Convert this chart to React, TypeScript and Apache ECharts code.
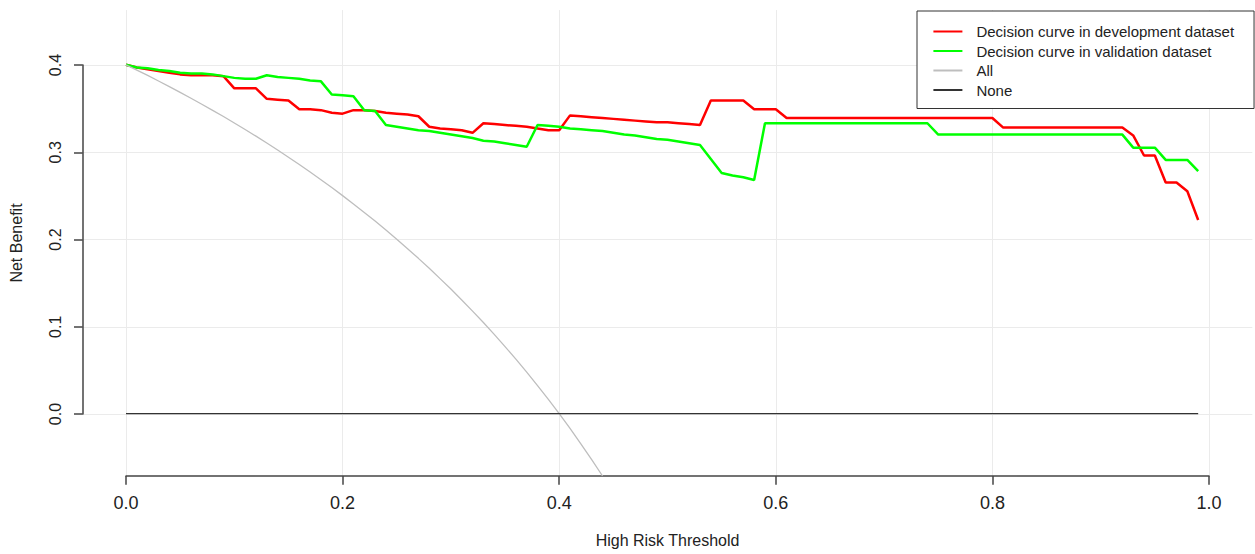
import React, { useEffect, useRef } from 'react';
import * as echarts from 'echarts';

const thresholds = [
  0, 0.01, 0.02, 0.03, 0.04, 0.05, 0.06, 0.07, 0.08, 0.09,
  0.1, 0.11, 0.12, 0.13, 0.14, 0.15, 0.16, 0.17, 0.18, 0.19,
  0.2, 0.21, 0.22, 0.23, 0.24, 0.25, 0.26, 0.27, 0.28, 0.29,
  0.3, 0.31, 0.32, 0.33, 0.34, 0.35, 0.36, 0.37, 0.38, 0.39,
  0.4, 0.41, 0.42, 0.43, 0.44, 0.45, 0.46, 0.47, 0.48, 0.49,
  0.5, 0.51, 0.52, 0.53, 0.54, 0.55, 0.56, 0.57, 0.58, 0.59,
  0.6, 0.61, 0.62, 0.63, 0.64, 0.65, 0.66, 0.67, 0.68, 0.69,
  0.7, 0.71, 0.72, 0.73, 0.74, 0.75, 0.76, 0.77, 0.78, 0.79,
  0.8, 0.81, 0.82, 0.83, 0.84, 0.85, 0.86, 0.87, 0.88, 0.89,
  0.9, 0.91, 0.92, 0.93, 0.94, 0.95, 0.96, 0.97, 0.98, 0.99,
];

const devValues = [
  0.400, 0.397, 0.395, 0.393, 0.391, 0.389, 0.388, 0.388, 0.388, 0.387,
  0.373, 0.373, 0.373, 0.361, 0.360, 0.359, 0.349, 0.349, 0.348, 0.345,
  0.344, 0.348, 0.348, 0.347, 0.345, 0.344, 0.343, 0.341, 0.329, 0.327,
  0.326, 0.325, 0.322, 0.333, 0.332, 0.331, 0.330, 0.329, 0.327, 0.325,
  0.325, 0.342, 0.341, 0.340, 0.339, 0.338, 0.337, 0.336, 0.335, 0.334,
  0.334, 0.333, 0.332, 0.331, 0.359, 0.359, 0.359, 0.359, 0.349, 0.349,
  0.349, 0.339, 0.339, 0.339, 0.339, 0.339, 0.339, 0.339, 0.339, 0.339,
  0.339, 0.339, 0.339, 0.339, 0.339, 0.339, 0.339, 0.339, 0.339, 0.339,
  0.339, 0.328, 0.328, 0.328, 0.328, 0.328, 0.328, 0.328, 0.328, 0.328,
  0.328, 0.328, 0.328, 0.319, 0.296, 0.296, 0.265, 0.265, 0.255, 0.222,
];

const valValues = [
  0.400, 0.397, 0.396, 0.394, 0.393, 0.391, 0.390, 0.390, 0.389, 0.387,
  0.385, 0.384, 0.384, 0.388, 0.386, 0.385, 0.384, 0.382, 0.381, 0.366,
  0.365, 0.364, 0.348, 0.347, 0.331, 0.329, 0.327, 0.325, 0.324, 0.322,
  0.320, 0.318, 0.316, 0.313, 0.312, 0.310, 0.308, 0.306, 0.331, 0.330,
  0.329, 0.327, 0.326, 0.325, 0.324, 0.322, 0.320, 0.319, 0.317, 0.315,
  0.314, 0.312, 0.310, 0.308, 0.292, 0.276, 0.273, 0.271, 0.268, 0.333,
  0.333, 0.333, 0.333, 0.333, 0.333, 0.333, 0.333, 0.333, 0.333, 0.333,
  0.333, 0.333, 0.333, 0.333, 0.333, 0.320, 0.320, 0.320, 0.320, 0.320,
  0.320, 0.320, 0.320, 0.320, 0.320, 0.320, 0.320, 0.320, 0.320, 0.320,
  0.320, 0.320, 0.320, 0.305, 0.305, 0.305, 0.291, 0.291, 0.291, 0.278,
];

const allThresholds = [
  0, 0.01, 0.02, 0.03, 0.04, 0.05, 0.06, 0.07, 0.08, 0.09,
  0.1, 0.11, 0.12, 0.13, 0.14, 0.15, 0.16, 0.17, 0.18, 0.19,
  0.2, 0.21, 0.22, 0.23, 0.24, 0.25, 0.26, 0.27, 0.28, 0.29,
  0.3, 0.31, 0.32, 0.33, 0.34, 0.35, 0.36, 0.37, 0.38, 0.39,
  0.4, 0.41, 0.42, 0.43, 0.44,
];
const allValues = [
  0.4000, 0.3939, 0.3878, 0.3814, 0.3750, 0.3684, 0.3617, 0.3548, 0.3478, 0.3407,
  0.3333, 0.3258, 0.3182, 0.3103, 0.3023, 0.2941, 0.2857, 0.2771, 0.2683, 0.2593,
  0.2500, 0.2405, 0.2308, 0.2208, 0.2105, 0.2000, 0.1892, 0.1781, 0.1667, 0.1549,
  0.1429, 0.1304, 0.1176, 0.1045, 0.0909, 0.0769, 0.0625, 0.0476, 0.0323, 0.0164,
  0.0000, -0.0169, -0.0345, -0.0526, -0.0714,
];

const noneThresholds = [0, 0.99];
const noneValues = [0, 0];

const seriesNames = [
  'Decision curve in development dataset',
  'Decision curve in validation dataset',
  'All',
  'None',
];

const xTicks = { min: 0, max: 1, step: 0.2 };
const yTicks = { min: 0, max: 0.4, step: 0.1 };

const FONT = '"Liberation Sans", Arial, sans-serif';

export default function App() {
  const ref = useRef<HTMLDivElement>(null);

  useEffect(() => {
    if (!ref.current) return;
    const chart = echarts.init(ref.current, null, { renderer: 'svg' });
    const axisColor = '#444';
    const gridColor = '#ebebeb';
    const fmt = (v: number) => v.toFixed(1);

    const option: any = {
      animation: false,
      backgroundColor: '#ffffff',
      grid: [
        { left: 126, top: 10.1, width: 1083, height: 465.9 },
        { left: 82.7, top: 65, width: 1169.6, height: 349 },
      ],
      xAxis: [
        {
          type: 'value',
          gridIndex: 0,
          min: xTicks.min,
          max: xTicks.max,
          interval: xTicks.step,
          position: 'bottom',
          axisLine: { show: true, onZero: false, lineStyle: { color: axisColor, width: 1.5 } },
          axisTick: { show: true, length: 8.7, lineStyle: { color: axisColor, width: 1.5 } },
          axisLabel: { margin: 18, fontSize: 18, color: '#222', fontFamily: FONT, formatter: fmt },
          splitLine: { show: true, lineStyle: { color: gridColor, width: 1 } },
        },
        { type: 'value', gridIndex: 1, min: 0, max: 1, show: false },
      ],
      yAxis: [
        { type: 'value', gridIndex: 0, min: -0.0714, max: 0.4627, show: false },
        {
          type: 'value',
          gridIndex: 1,
          min: yTicks.min,
          max: yTicks.max,
          interval: yTicks.step,
          position: 'left',
          axisLine: { show: true, onZero: false, lineStyle: { color: axisColor, width: 1.5 } },
          axisTick: { show: true, length: 8.7, lineStyle: { color: axisColor, width: 1.5 } },
          axisLabel: { rotate: 90, margin: 19, fontSize: 16, color: '#222', fontFamily: FONT, formatter: fmt },
          splitLine: { show: true, lineStyle: { color: gridColor, width: 1 } },
        },
      ],
      legend: {
        orient: 'vertical',
        left: 917,
        top: 11,
        padding: [13, 20, 11, 15.4],
        itemWidth: 29,
        itemHeight: 14,
        itemGap: 4.5,
        borderColor: '#333',
        borderWidth: 1,
        backgroundColor: '#ffffff',
        itemStyle: { opacity: 0, color: 'transparent', borderColor: 'transparent', borderWidth: 0 },
        textStyle: { fontSize: 15, fontFamily: FONT, color: '#222', lineHeight: 15, padding: [0, 0, 0, 9] },
        data: seriesNames,
      },
      graphic: [
        {
          type: 'text',
          x: 16.5,
          y: 243,
          rotation: Math.PI / 2,
          style: {
            text: 'Net Benefit',
            fontSize: 16,
            fontFamily: FONT,
            fill: '#222',
            align: 'center',
            verticalAlign: 'middle',
          },
        },
        {
          type: 'text',
          x: 667.5,
          y: 540,
          style: {
            text: 'High Risk Threshold',
            fontSize: 16,
            fontFamily: FONT,
            fill: '#222',
            align: 'center',
            verticalAlign: 'middle',
          },
        },
      ],
      series: [
        {
          name: seriesNames[0],
          type: 'line',
          xAxisIndex: 0,
          yAxisIndex: 0,
          symbol: 'none',
          color: '#ff0000',
          lineStyle: { color: '#ff0000', width: 2.5 },
          data: thresholds.map((t, i) => [t, devValues[i]]),
        },
        {
          name: seriesNames[1],
          type: 'line',
          xAxisIndex: 0,
          yAxisIndex: 0,
          symbol: 'none',
          color: '#00ff00',
          lineStyle: { color: '#00ff00', width: 2.5 },
          data: thresholds.map((t, i) => [t, valValues[i]]),
        },
        {
          name: seriesNames[2],
          type: 'line',
          xAxisIndex: 0,
          yAxisIndex: 0,
          symbol: 'none',
          color: '#bebebe',
          lineStyle: { color: '#bebebe', width: 1.3 },
          data: allThresholds.map((t, i) => [t, allValues[i]]),
        },
        {
          name: seriesNames[3],
          type: 'line',
          xAxisIndex: 0,
          yAxisIndex: 0,
          symbol: 'none',
          color: '#333333',
          lineStyle: { color: '#333333', width: 1.3 },
          data: noneThresholds.map((t, i) => [t, noneValues[i]]),
        },
      ],
    };

    chart.setOption(option);
    return () => chart.dispose();
  }, []);

  return (
    <div
      ref={ref}
      style={{ position: 'fixed', left: 0, top: 0, width: 1255, height: 554, background: '#fff' }}
    />
  );
}
